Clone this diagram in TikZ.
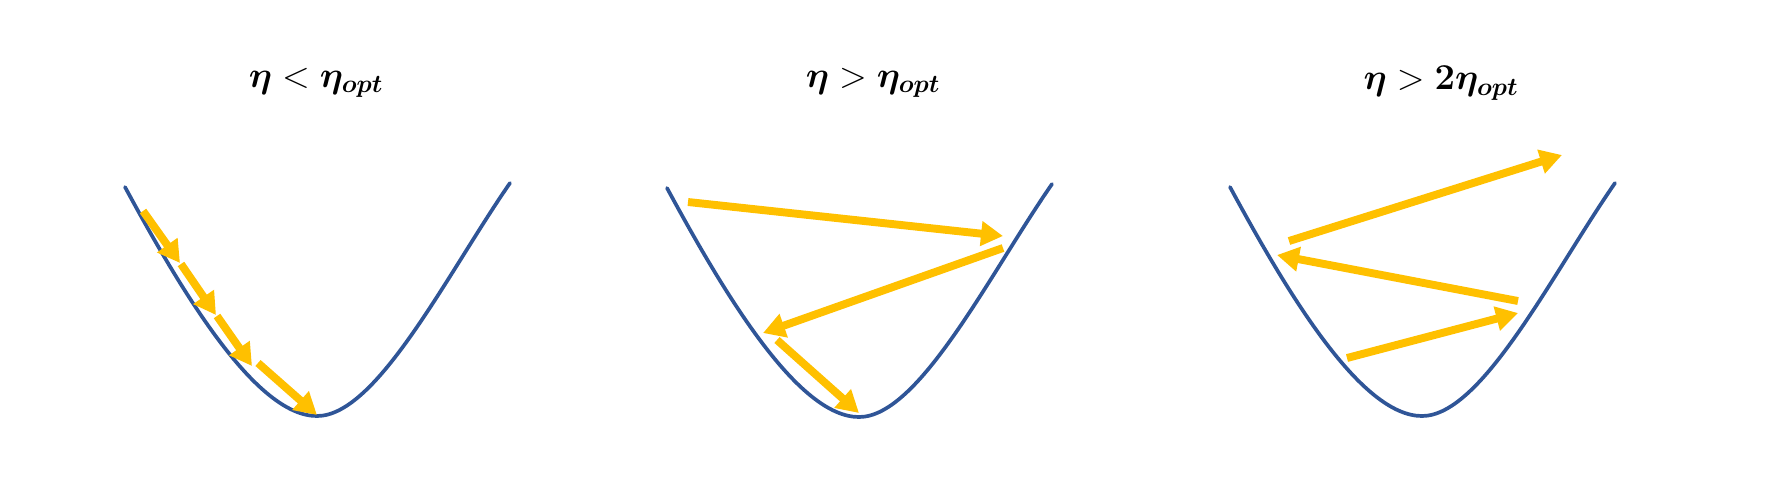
\documentclass[tikz,border=0pt]{standalone}
\usepackage{amsmath,bm}
\usetikzlibrary{arrows.meta}
\definecolor{curveblue}{HTML}{2F5597}
\definecolor{stepyellow}{HTML}{FFC000}
\tikzset{
  valley/.style={draw=curveblue, line width=2.1pt, line cap=round},
  stepArrow/.style={draw=stepyellow, line width=4.5pt, -{Triangle[length=12.5pt,width=13.5pt]}},
  title/.style={font=\fontsize{19.5}{22}\selectfont, anchor=center}
}
\begin{document}
\begin{tikzpicture}[x=0.02cm,y=-0.02cm]
\useasboundingbox (0,0) rectangle (1768,485);
% titles
\node[title] (t1) at (316,83) {$\bm{\eta} < \bm{\eta}_{\bm{opt}}$};
\node[title] (t2) at (873,83) {$\bm{\eta} > \bm{\eta}_{\bm{opt}}$};
\node[title] (t3) at (1441,83) {$\bm{\eta} > \mathbf{2}\bm{\eta}_{\bm{opt}}$};
% valleys
\foreach \mx/\my in {317/416, 859/417, 1422/416}{
  \draw[valley, shift={(\mx,\my)}] (-192,-229) .. controls (-132,-118) and (-60,0) .. (0,0)
     .. controls (60,0) and (130,-142) .. (193,-233);
}
% panel 1 steps
\coordinate (a0) at (143,211);
\coordinate (a1) at (180,263);
\coordinate (a1s) at (181,264);
\coordinate (a2) at (216,315);
\coordinate (a2s) at (217,316);
\coordinate (a3) at (252,366);
\coordinate (a3s) at (258,363);
\coordinate (a4) at (317,415);
\draw[stepArrow] (a0) -- (a1);
\draw[stepArrow] (a1s) -- (a2);
\draw[stepArrow] (a2s) -- (a3);
\draw[stepArrow] (a3s) -- (a4);
% panel 2 steps
\coordinate (b0) at (688,202);
\coordinate (b1) at (1003,236);
\coordinate (b1s) at (1003,248);
\coordinate (b2) at (763,333);
\coordinate (b2s) at (777,340);
\coordinate (b3) at (859,413);
\draw[stepArrow] (b0) -- (b1);
\draw[stepArrow] (b1s) -- (b2);
\draw[stepArrow] (b2s) -- (b3);
% panel 3 steps
\coordinate (c0) at (1347,358);
\coordinate (c1) at (1518,313);
\coordinate (c1s) at (1518,301);
\coordinate (c2) at (1277,255);
\coordinate (c2s) at (1289,241);
\coordinate (c3) at (1562,155);
\draw[stepArrow] (c0) -- (c1);
\draw[stepArrow] (c1s) -- (c2);
\draw[stepArrow] (c2s) -- (c3);
\end{tikzpicture}
\end{document}
